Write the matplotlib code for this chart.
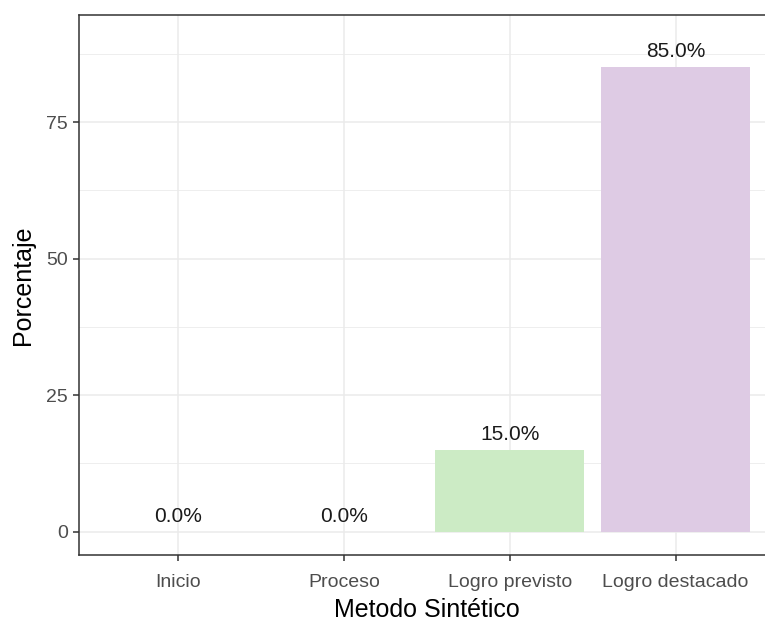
import matplotlib
matplotlib.use('Agg')
import matplotlib.pyplot as plt
import numpy as np

plt.rcParams['font.family'] = ['Liberation Sans', 'DejaVu Sans']

# data
categorias = ['Inicio', 'Proceso', 'Logro previsto', 'Logro destacado']
porcentajes = [0.0, 0.0, 15.0, 85.0]
colores = ['#FBB4AE', '#B3CDE3', '#CCEBC5', '#DECBE4']

fig = plt.figure(figsize=(7.65, 6.21), dpi=100)
ax = fig.add_axes([79 / 765, 1 - 555 / 621, (775 - 79) / 765, (555 - 15) / 621])

x = np.arange(1, len(categorias) + 1)
ax.bar(x, porcentajes, width=0.9, color=colores, zorder=2)
for xi, v in zip(x, porcentajes):
    ax.text(xi, v + 1.1, f'{v:.1f}%', ha='center', va='bottom',
            fontsize=15, color='#1A1A1A', zorder=3)

ax.set_xlim(0.4, 4.6)
ax.set_ylim(-4.25, 94.6)
ax.set_xticks(x)
ax.set_xticklabels(categorias)
ax.set_yticks([0, 25, 50, 75])
ax.set_yticks([12.5, 37.5, 62.5, 87.5], minor=True)
ax.tick_params(axis='both', which='major', labelsize=14, labelcolor='#4D4D4D',
               color='#333333', length=4, width=1.1, pad=4)
ax.tick_params(axis='x', which='major', pad=10)
ax.tick_params(axis='y', which='minor', length=0)
ax.grid(which='major', color='#EBEBEB', linewidth=1.1, zorder=0)
ax.grid(which='minor', axis='y', color='#EBEBEB', linewidth=0.6, zorder=0)
ax.set_axisbelow(True)
for s in ax.spines.values():
    s.set_color('#333333')
    s.set_linewidth(1.1)
ax.spines['right'].set_visible(False)

ax.set_xlabel('Metodo Sintético', fontsize=18, color='black', labelpad=5)
ax.set_ylabel('Porcentaje', fontsize=18, color='black', labelpad=8)

fig.savefig('out.png', dpi=100)
